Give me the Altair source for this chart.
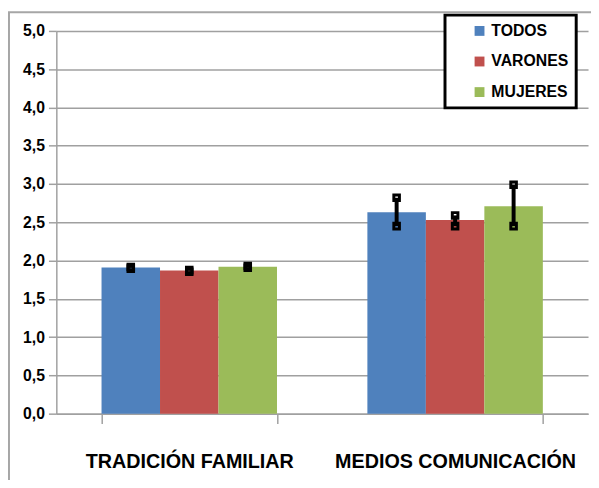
import altair as alt
import pandas as pd

categories = ["TRADICIÓN FAMILIAR", "MEDIOS COMUNICACIÓN"]
series = ["TODOS", "VARONES", "MUJERES"]
colors = ["#4F81BD", "#C0504D", "#9BBB59"]
means_tf = [1.91, 1.87, 1.92]
means_mc = [2.63, 2.53, 2.71]
low_tf = [1.895, 1.855, 1.905]
high_tf = [1.915, 1.875, 1.93]
low_mc = [2.45, 2.45, 2.45]
high_mc = [2.82, 2.59, 2.99]
y_ticks = [0.0, 0.5, 1.0, 1.5, 2.0, 2.5, 3.0, 3.5, 4.0, 4.5, 5.0]

rows = []
for cat, means, lows, highs in [
    (categories[0], means_tf, low_tf, high_tf),
    (categories[1], means_mc, low_mc, high_mc),
]:
    for s, m, lo, hi in zip(series, means, lows, highs):
        rows.append({"cat": cat, "serie": s, "mean": m, "low": lo, "high": hi})
df = pd.DataFrame(rows)

FONT = "Liberation Sans, Arial, sans-serif"
GRID = "#a0a0a0"

x = alt.X(
    "cat:N",
    sort=categories,
    scale=alt.Scale(paddingInner=0.34, paddingOuter=0.17),
    axis=alt.Axis(
        title=None, labelAngle=0, tickBand="extent", grid=False,
        domainColor=GRID, domainWidth=1.5, tickColor=GRID, tickWidth=1.5, tickSize=10,
        labelFont=FONT, labelFontSize=20, labelFontWeight="bold", labelColor="black",
        labelPadding=29, labelLimit=0,
    ),
)
xo = alt.XOffset("serie:N", sort=series, scale=alt.Scale(paddingInner=0, paddingOuter=0))

y_axis = alt.Axis(
    title=None, values=y_ticks,
    labelExpr="replace(format(datum.value, '.1f'), '.', ',')",
    grid=True, gridColor=GRID, gridWidth=1.5,
    domainColor=GRID, domainWidth=1.5, tickColor=GRID, tickWidth=1.5, tickSize=8,
    labelFont=FONT, labelFontSize=16, labelFontWeight="bold", labelColor="black",
    labelPadding=4,
)
yscale = alt.Scale(domain=[0, 5], nice=False)

color = alt.Color(
    "serie:N", sort=series,
    scale=alt.Scale(domain=series, range=colors),
    legend=alt.Legend(
        title=None, orient="none", legendX=394, legendY=-16,
        symbolType="square", symbolSize=100, symbolStrokeWidth=0,
        symbolOffset=19, padding=8, rowPadding=15,
        labelFont=FONT, labelFontSize=16, labelFontWeight="bold", labelColor="black",
        labelOffset=4, labelLimit=0,
        labelExpr="datum.label + '\u00a0\u00a0\u00a0'",
        strokeColor="black", fillColor="white",
    ),
)

border = alt.Chart(pd.DataFrame({"a": [0]})).mark_rect(
    fill="transparent", stroke="#a6a6a6", strokeWidth=2
).encode(x=alt.value(-48), x2=alt.value(560), y=alt.value(-19), y2=alt.value(480))

bars = alt.Chart(df).mark_bar().encode(
    x=x, xOffset=xo,
    y=alt.Y("mean:Q", scale=yscale, axis=y_axis),
    color=color,
)

rules = alt.Chart(df).mark_rule(color="black", strokeWidth=4).encode(
    x=x, xOffset=xo,
    y=alt.Y("low:Q", scale=yscale, axis=y_axis),
    y2="high:Q",
)

caps_low = alt.Chart(df).mark_point(
    shape="square", filled=False, stroke="black", strokeWidth=3, size=32, opacity=1
).encode(x=x, xOffset=xo, y=alt.Y("low:Q", scale=yscale, axis=y_axis))

caps_high = alt.Chart(df).mark_point(
    shape="square", filled=False, stroke="black", strokeWidth=3, size=32, opacity=1
).encode(x=x, xOffset=xo, y=alt.Y("high:Q", scale=yscale, axis=y_axis))

chart = alt.layer(border, bars, rules, caps_low, caps_high).properties(
    width=539, height=388,
    autosize=alt.AutoSizeParams(type="none"),
    padding={"left": 49, "top": 20, "right": 3, "bottom": 64},
).configure_view(strokeWidth=0).configure_legend(strokeWidth=3)

chart.save("out.html", embed_options={"renderer": "svg", "actions": False})
